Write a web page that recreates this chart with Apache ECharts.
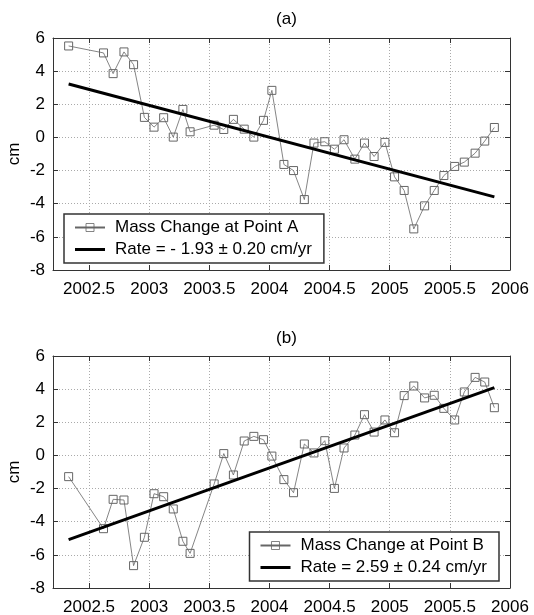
<!DOCTYPE html>
<html>
<head>
<meta charset="utf-8">
<script src="https://cdn.jsdelivr.net/npm/echarts@6/dist/echarts.min.js"></script>
<style>
  html, body { margin: 0; padding: 0; background: #fff; }
  #main { width: 534px; height: 615px; }
</style>
</head>
<body>
<div id="main"></div>
<script>
// monthly epochs (decimal year)
var years = [2002.33, 2002.62, 2002.70, 2002.79, 2002.87, 2002.96, 2003.04, 2003.12, 2003.20, 2003.28,
             2003.34, 2003.54, 2003.62, 2003.70, 2003.79, 2003.87, 2003.95, 2004.02, 2004.12, 2004.20,
             2004.29, 2004.37, 2004.46, 2004.54, 2004.62, 2004.71, 2004.79, 2004.87, 2004.96, 2005.04,
             2005.12, 2005.20, 2005.29, 2005.37, 2005.45, 2005.54, 2005.62, 2005.71, 2005.79, 2005.87];

// mass change, cm
var massA = [5.52, 5.10, 3.85, 5.16, 4.39, 1.21, 0.62, 1.19, 0.02, 1.69,
             0.34, 0.74, 0.48, 1.09, 0.50, 0.02, 1.03, 2.84, -1.63, -2.00,
             -3.75, -0.34, -0.26, -0.71, -0.14, -1.31, -0.34, -1.15, -0.30, -2.38,
             -3.20, -5.52, -4.13, -3.20, -2.30, -1.75, -1.49, -0.95, -0.22, 0.60];

var massB = [-1.28, -4.42, -2.65, -2.69, -6.65, -4.94, -2.31, -2.49, -3.23, -5.18,
             -5.91, -1.72, 0.11, -1.18, 0.87, 1.15, 0.95, -0.04, -1.46, -2.25,
             0.69, 0.15, 0.89, -1.99, 0.45, 1.23, 2.46, 1.41, 2.14, 1.37,
             3.61, 4.19, 3.47, 3.63, 2.84, 2.14, 3.83, 4.71, 4.43, 2.88];

// fitted trend lines, end points
var trendYears = [2002.33, 2005.87];
var trendA = [3.22, -3.59];
var trendB = [-5.08, 4.09];

var xTicks = [2002.5, 2003, 2003.5, 2004, 2004.5, 2005, 2005.5, 2006];

var nameA = 'Mass Change at Point A';
var rateA = 'Rate = - 1.93 \u00b1 0.20 cm/yr';
var nameB = 'Mass Change at Point B';
var rateB = 'Rate = 2.59 \u00b1 0.24 cm/yr';

function pairs(xs, ys) {
  return xs.map(function (x, i) { return [x, ys[i]]; });
}

var font = 'Liberation Sans, Arial, sans-serif';
var boxColor = '#333';
var lineIcon = 'path://M0,0H30V3H0Z';

function xAx(grid, pos) {
  var main = pos === 'bottom';
  return {
    type: 'value', gridIndex: grid, position: pos, min: 2002.2, max: 2006,
    axisLine: { show: true, onZero: false, lineStyle: { color: boxColor, width: 1 } },
    axisTick: { show: true, inside: true, length: 5, customValues: xTicks, lineStyle: { color: boxColor } },
    axisLabel: { show: main, customValues: xTicks, margin: 11, color: '#000', fontSize: 17, fontFamily: font,
                 formatter: function (v) { return String(v); } },
    splitLine: { show: main, customValues: xTicks, lineStyle: { color: '#aaa', type: [1, 2], width: 1 } }
  };
}

function yAx(grid, pos) {
  var main = pos === 'left';
  return {
    type: 'value', gridIndex: grid, position: pos, min: -8, max: 6, interval: 2,
    name: main ? 'cm' : '', nameLocation: 'middle', nameGap: 30, nameMoveOverlap: false,
    nameTextStyle: { color: '#000', fontSize: 17, fontFamily: font },
    axisLine: { show: true, onZero: false, lineStyle: { color: boxColor, width: 1 } },
    axisTick: { show: true, inside: true, length: 5, lineStyle: { color: boxColor } },
    axisLabel: { show: main, margin: 8, color: '#000', fontSize: 17, fontFamily: font },
    splitLine: { show: main, lineStyle: { color: '#aaa', type: [1, 2], width: 1 } }
  };
}

function massSeries(name, ys, xi, yi) {
  return {
    name: name, type: 'line', xAxisIndex: xi, yAxisIndex: yi,
    data: pairs(years, ys),
    symbol: 'rect', symbolSize: 8,
    lineStyle: { color: '#666', width: 0.8 },
    itemStyle: { color: 'rgba(255,255,255,0)', borderColor: '#666', borderWidth: 1 },
    z: 2
  };
}

function rateSeries(name, ys, xi, yi) {
  return {
    name: name, type: 'line', xAxisIndex: xi, yAxisIndex: yi,
    data: pairs(trendYears, ys),
    symbol: 'none',
    lineStyle: { color: '#000', width: 3 },
    itemStyle: { color: '#000' },
    z: 3
  };
}

function legendBox(names, pos) {
  var l = {
    data: [
      { name: names[0], itemStyle: { borderWidth: 0.8 } },
      { name: names[1], icon: lineIcon }
    ],
    orient: 'vertical', top: pos.top,
    itemWidth: 30, itemHeight: 10, itemGap: 5,
    padding: [5, 12, 5, 10],
    borderColor: boxColor, borderWidth: 1.5, backgroundColor: '#fff',
    textStyle: { color: '#000', fontSize: 17, fontFamily: font, padding: [0, 0, 0, 5] }
  };
  if (pos.left != null) l.left = pos.left;
  if (pos.right != null) l.right = pos.right;
  return l;
}

var chart = echarts.init(document.getElementById('main'));

chart.setOption({
  animation: false,
  backgroundColor: '#fff',
  title: [
    { text: '(a)', left: 281.5, textAlign: 'center', top: 6,
      textStyle: { color: '#000', fontSize: 17, fontWeight: 'normal', fontFamily: font } },
    { text: '(b)', left: 281.5, textAlign: 'center', top: 325,
      textStyle: { color: '#000', fontSize: 17, fontWeight: 'normal', fontFamily: font } }
  ],
  legend: [
    legendBox([nameA, rateA], { left: 64, top: 214 }),
    legendBox([nameB, rateB], { right: 35, top: 532 })
  ],
  grid: [
    { left: 53, right: 24, top: 38, height: 232, outerBoundsMode: 'none' },
    { left: 53, right: 24, top: 356, height: 232, outerBoundsMode: 'none' }
  ],
  xAxis: [xAx(0, 'bottom'), xAx(0, 'top'), xAx(1, 'bottom'), xAx(1, 'top')],
  yAxis: [yAx(0, 'left'), yAx(0, 'right'), yAx(1, 'left'), yAx(1, 'right')],
  series: [
    massSeries(nameA, massA, 0, 0),
    rateSeries(rateA, trendA, 0, 0),
    massSeries(nameB, massB, 2, 2),
    rateSeries(rateB, trendB, 2, 2)
  ]
});
</script>
</body>
</html>
